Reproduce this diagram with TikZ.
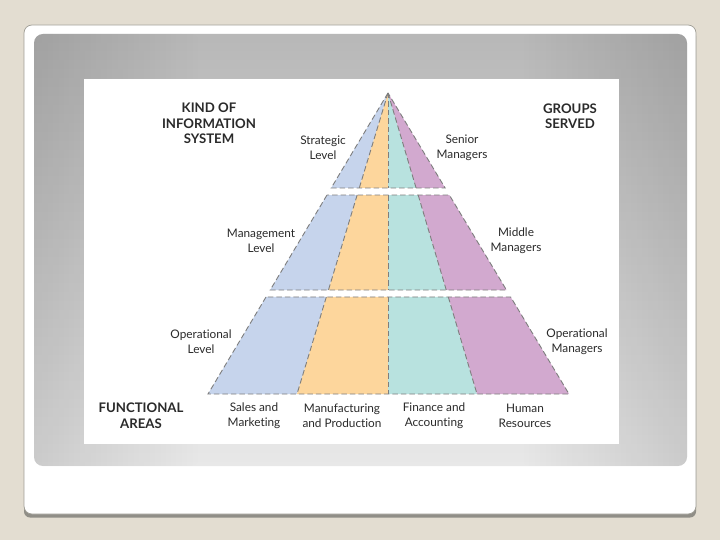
\documentclass[tikz,border=0pt]{standalone}
\usepackage{fontspec}
\setmainfont[Ligatures=NoCommon]{Lato}
\usetikzlibrary{calc,fadings}
\definecolor{slidebg}{HTML}{E3DDD1}
\definecolor{cardedge}{HTML}{A09E96}
\definecolor{cblue}{HTML}{C6D4EC}
\definecolor{corange}{HTML}{FDD69C}
\definecolor{cteal}{HTML}{B8E2DF}
\definecolor{cpurple}{HTML}{D2A9CF}
\definecolor{dashgray}{HTML}{7E7E7E}
\definecolor{txt}{HTML}{2A2A2A}
\tikzset{
  bandline/.style={draw=dashgray, line width=0.9pt, dash pattern=on 5.5pt off 3pt},
  lbl/.style={align=center, text=txt, font=\fontsize{11.8}{14.8}\selectfont, inner sep=0pt},
  hdr/.style={align=center, text=txt, font=\fontsize{13.2}{15.5}\selectfont\bfseries, inner sep=0pt}
}
\begin{document}
\begin{tikzpicture}[x=1pt,y=-1pt]
\useasboundingbox (0,0) rectangle (720,540);
% slide background
\fill[slidebg] (0,0) rectangle (720,540);
% card shadow and card
\fill[cardedge!90!black, rounded corners=6pt] (24,30) rectangle (696,517.5);
\filldraw[fill=white, draw=cardedge, line width=0.7pt, rounded corners=8pt] (24,25) rectangle (696,514);
% gray frame
\shade[rounded corners=9pt, top color=black!28, bottom color=black!9] (34,34) rectangle (687,466);
\fill[black, opacity=0.12, path fading=east, rounded corners=9pt] (34,34) rectangle (200,466);
\fill[black, opacity=0.12, path fading=west, rounded corners=9pt] (521,34) rectangle (687,466);
% white picture
\fill[white] (84,79) rectangle (619,444);

% pyramid
\coordinate (A) at (388,93);
\coordinate (Lb) at (208,394);
\coordinate (D1b) at (297,394);
\coordinate (Cb) at (388,394);
\coordinate (D3b) at (477,394);
\coordinate (Rb) at (569,394);
\foreach \ta/\tb in {0/0.3156, 0.3389/0.6545, 0.6777/1} {
  \foreach \p/\q/\c in {Lb/D1b/cblue, D1b/Cb/corange, Cb/D3b/cteal, D3b/Rb/cpurple} {
    \fill[\c] ($(A)!\ta!(\p)$) -- ($(A)!\tb!(\p)$) -- ($(A)!\tb!(\q)$) -- ($(A)!\ta!(\q)$) -- cycle;
  }
  \draw[bandline] ($(A)!\ta!(Lb)$) -- ($(A)!\tb!(Lb)$) -- ($(A)!\tb!(Rb)$) -- ($(A)!\ta!(Rb)$) -- cycle;
  \foreach \p in {D1b, Cb, D3b} {
    \draw[bandline] ($(A)!\ta!(\p)$) -- ($(A)!\tb!(\p)$);
  }
}

% labels
\node[hdr] (kind) at (209,123.5) {KIND OF\\INFORMATION\\SYSTEM};
\node[hdr] (groups) at (570,116) {GROUPS\\SERVED};
\node[lbl] (strat) at (323,147.5) {Strategic\\Level};
\node[lbl] (senior) at (462,147.5) {Senior\\Managers};
\node[lbl] (mgmt) at (261,241) {Management\\Level};
\node[lbl] (middle) at (516,241) {Middle\\Managers};
\node[lbl] (oplev) at (201,341.5) {Operational\\Level};
\node[lbl] (opman) at (577,341.5) {Operational\\Managers};
\node[hdr] (func) at (141,415.5) {FUNCTIONAL\\AREAS};
\node[lbl] (sales) at (254,415.5) {Sales and\\Marketing};
\node[lbl] (manu) at (342,415.5) {Manufacturing\\and Production};
\node[lbl] (fin) at (434,415.5) {Finance and\\Accounting};
\node[lbl] (hr) at (525,415.5) {Human\\Resources};
\end{tikzpicture}
\end{document}
